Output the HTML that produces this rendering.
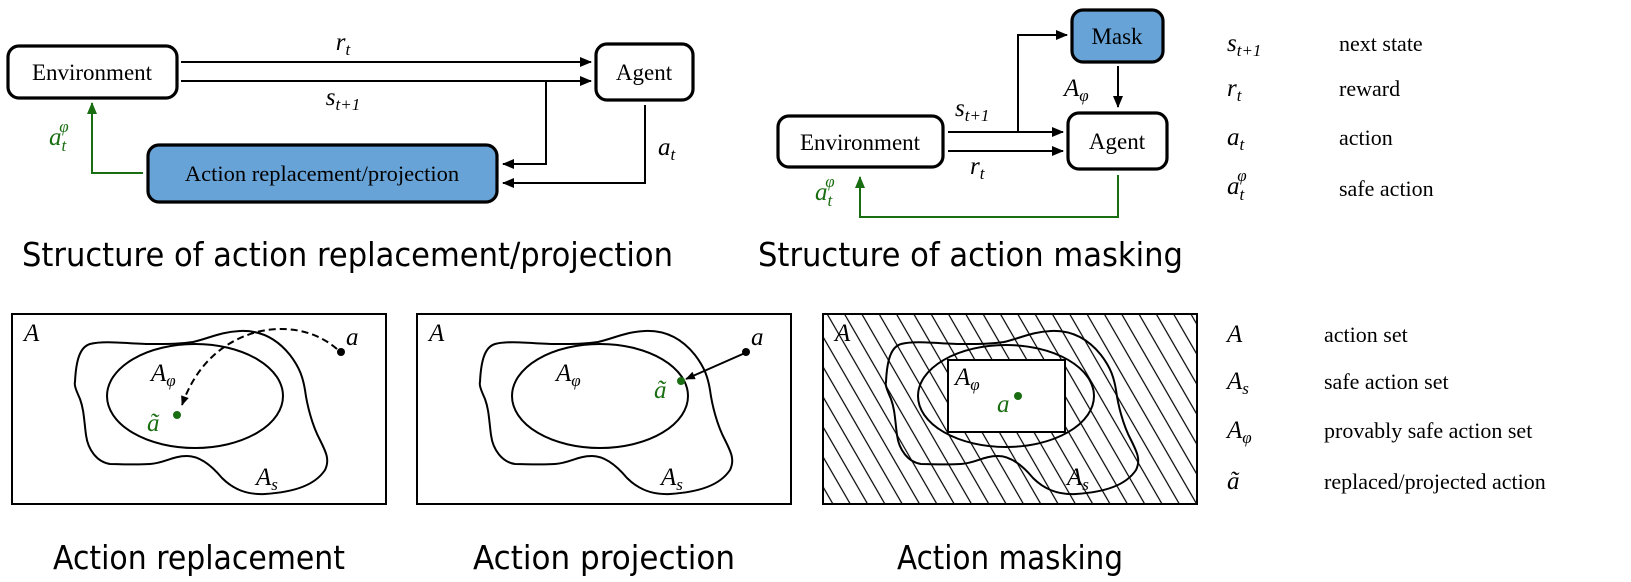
<!DOCTYPE html>
<html><head><meta charset="utf-8"><style>
html,body{margin:0;padding:0;background:#fff;}
svg{display:block;}
.serif{font-family:"Liberation Serif",serif;}
.it{font-family:"Liberation Serif",serif;font-style:italic;}
.sans{font-family:"DejaVu Sans","Liberation Sans",sans-serif;}
</style></head><body>
<svg width="1631" height="582" viewBox="0 0 1631 582" xmlns="http://www.w3.org/2000/svg">
<defs>
<marker id="ah" viewBox="0 0 12 10" refX="11" refY="5" markerWidth="12" markerHeight="10" markerUnits="userSpaceOnUse" orient="auto"><path d="M0,0 L12,5 L0,10 z" fill="#000"/></marker>
<marker id="ahs" viewBox="0 0 12 10" refX="11" refY="5" markerWidth="10" markerHeight="8" markerUnits="userSpaceOnUse" orient="auto"><path d="M0,0 L12,5 L0,10 z" fill="#000"/></marker>
<marker id="ag" viewBox="0 0 12 10" refX="11" refY="5" markerWidth="12" markerHeight="10" markerUnits="userSpaceOnUse" orient="auto"><path d="M0,0 L12,5 L0,10 z" fill="#1a6e12"/></marker>
<pattern id="hatch" patternUnits="userSpaceOnUse" width="15" height="15" patternTransform="rotate(-30)">
<line x1="7" y1="0" x2="7" y2="15" stroke="#000" stroke-width="1.2"/>
</pattern>
<path id="blob" d="M80,399 C76,390 74,385 75,382 C76,360 80,347 90,344 C105,340 130,344 150,344 C170,344 180,344 193,342 C210,338 220,332 240,331 C262,330 278,340 290,355 C300,368 303,378 305,390 C307,405 312,425 320,440 C326,452 330,460 325,470 C315,485 295,492 265,494 C245,495 232,488 222,478 C212,466 200,456 187,456 C172,456 165,463 150,464 C135,465 120,464 110,464 C97,462 88,450 86,435 C84,420 84,410 80,399 z" fill="none" stroke="#000" stroke-width="2"/>
</defs>

<!-- ===== Top-left diagram ===== -->
<rect x="8" y="46" width="169" height="52" rx="11" fill="#fff" stroke="#000" stroke-width="3.2"/>
<text x="92" y="80" class="serif" font-size="23" text-anchor="middle">Environment</text>
<rect x="596" y="44" width="97" height="56" rx="11" fill="#fff" stroke="#000" stroke-width="3.2"/>
<text x="644" y="80" class="serif" font-size="23" text-anchor="middle">Agent</text>
<rect x="148" y="145" width="349" height="57" rx="11" fill="#67a3d6" stroke="#000" stroke-width="3.2"/>
<text x="322" y="181" class="serif" font-size="22.5" text-anchor="middle">Action replacement/projection</text>

<line x1="181" y1="62" x2="591" y2="62" stroke="#000" stroke-width="2" marker-end="url(#ah)"/>
<line x1="181" y1="81" x2="591" y2="81" stroke="#000" stroke-width="2" marker-end="url(#ah)"/>
<text x="343" y="50" class="it" font-size="25" text-anchor="middle">r<tspan font-size="17" dy="5">t</tspan></text>
<text x="343" y="105" class="it" font-size="25" text-anchor="middle">s<tspan font-size="17" dy="5">t+1</tspan></text>
<polyline points="546,81 546,164 503,164" fill="none" stroke="#000" stroke-width="2" marker-end="url(#ah)"/>
<polyline points="645,105 645,183 503,183" fill="none" stroke="#000" stroke-width="2" marker-end="url(#ah)"/>
<text x="658" y="155" class="it" font-size="25">a<tspan font-size="17" dy="5">t</tspan></text>
<polyline points="143,173 92,173 92,103" fill="none" stroke="#1a6e12" stroke-width="2" marker-end="url(#ag)"/>
<text x="49" y="145" class="it" font-size="25" fill="#1a6e12">a<tspan font-size="17" dy="6">t</tspan><tspan font-size="17" dx="-7" dy="-19">φ</tspan></text>

<text x="22" y="266" class="sans" font-size="33" textLength="651" lengthAdjust="spacingAndGlyphs">Structure of action replacement/projection</text>

<!-- ===== Top-middle diagram ===== -->
<rect x="778" y="116" width="165" height="51" rx="11" fill="#fff" stroke="#000" stroke-width="3.2"/>
<text x="860" y="150" class="serif" font-size="23" text-anchor="middle">Environment</text>
<rect x="1068" y="113" width="99" height="56" rx="11" fill="#fff" stroke="#000" stroke-width="3.2"/>
<text x="1117" y="149" class="serif" font-size="23" text-anchor="middle">Agent</text>
<rect x="1072" y="10" width="91" height="52" rx="11" fill="#67a3d6" stroke="#000" stroke-width="3.2"/>
<text x="1117" y="44" class="serif" font-size="23" text-anchor="middle">Mask</text>

<line x1="948" y1="132" x2="1063" y2="132" stroke="#000" stroke-width="2" marker-end="url(#ah)"/>
<line x1="948" y1="151" x2="1063" y2="151" stroke="#000" stroke-width="2" marker-end="url(#ah)"/>
<polyline points="1018,132 1018,35 1067,35" fill="none" stroke="#000" stroke-width="2" marker-end="url(#ah)"/>
<line x1="1118" y1="66" x2="1118" y2="107" stroke="#000" stroke-width="2" marker-end="url(#ah)"/>
<text x="1064" y="96" class="it" font-size="25">A<tspan font-size="17" dy="5">φ</tspan></text>
<text x="955" y="116" class="it" font-size="25">s<tspan font-size="17" dy="5">t+1</tspan></text>
<text x="970" y="174" class="it" font-size="25">r<tspan font-size="17" dy="5">t</tspan></text>
<polyline points="1118,175 1118,217 860,217 860,177" fill="none" stroke="#1a6e12" stroke-width="2" marker-end="url(#ag)"/>
<text x="815" y="200" class="it" font-size="25" fill="#1a6e12">a<tspan font-size="17" dy="6">t</tspan><tspan font-size="17" dx="-7" dy="-19">φ</tspan></text>

<text x="758" y="266" class="sans" font-size="33" textLength="425" lengthAdjust="spacingAndGlyphs">Structure of action masking</text>

<!-- ===== Legend top ===== -->
<g font-size="22">
<text x="1227" y="51" class="it" font-size="25">s<tspan font-size="17" dy="5">t+1</tspan></text>
<text x="1339" y="51" class="serif">next state</text>
<text x="1227" y="96" class="it" font-size="25">r<tspan font-size="17" dy="5">t</tspan></text>
<text x="1339" y="96" class="serif">reward</text>
<text x="1227" y="145" class="it" font-size="25">a<tspan font-size="17" dy="5">t</tspan></text>
<text x="1339" y="145" class="serif">action</text>
<text x="1227" y="194" class="it" font-size="25">a<tspan font-size="17" dy="6">t</tspan><tspan font-size="17" dx="-7" dy="-19">φ</tspan></text>
<text x="1339" y="196" class="serif">safe action</text>
</g>

<!-- ===== Legend bottom ===== -->
<g font-size="22">
<text x="1227" y="342" class="it" font-size="25">A</text>
<text x="1324" y="342" class="serif">action set</text>
<text x="1227" y="389" class="it" font-size="25">A<tspan font-size="17" dy="5">s</tspan></text>
<text x="1324" y="389" class="serif">safe action set</text>
<text x="1227" y="438" class="it" font-size="25">A<tspan font-size="17" dy="5">φ</tspan></text>
<text x="1324" y="438" class="serif">provably safe action set</text>
<text x="1227" y="489" class="it" font-size="25">ã</text>
<text x="1324" y="489" class="serif">replaced/projected action</text>
</g>

<!-- ===== Panel 1 ===== -->
<rect x="12" y="314" width="374" height="190" fill="#fff" stroke="#000" stroke-width="2"/>
<use href="#blob"/>
<ellipse cx="195" cy="396" rx="88" ry="52" fill="none" stroke="#000" stroke-width="2"/>
<text x="24" y="341" class="it" font-size="25">A</text>
<text x="151" y="381" class="it" font-size="25">A<tspan font-size="17" dy="5">φ</tspan></text>
<text x="256" y="485" class="it" font-size="25">A<tspan font-size="17" dy="5">s</tspan></text>
<circle cx="341" cy="352" r="4" fill="#000"/>
<text x="346" y="345" class="it" font-size="25">a</text>
<path d="M337,349 C315,330 285,325 257,332 C220,342 195,368 182,405" fill="none" stroke="#000" stroke-width="2" stroke-dasharray="7,4" marker-end="url(#ahs)"/>
<circle cx="177" cy="415" r="4" fill="#1a6e12"/>
<text x="147" y="431" class="it" font-size="25" fill="#1a6e12">ã</text>
<text x="199" y="569" class="sans" font-size="33" text-anchor="middle" textLength="292" lengthAdjust="spacingAndGlyphs">Action replacement</text>

<!-- ===== Panel 2 ===== -->
<g transform="translate(405,0)">
<rect x="12" y="314" width="374" height="190" fill="#fff" stroke="#000" stroke-width="2"/>
<use href="#blob"/>
<ellipse cx="195" cy="396" rx="88" ry="52" fill="none" stroke="#000" stroke-width="2"/>
<text x="24" y="341" class="it" font-size="25">A</text>
<text x="151" y="381" class="it" font-size="25">A<tspan font-size="17" dy="5">φ</tspan></text>
<text x="256" y="485" class="it" font-size="25">A<tspan font-size="17" dy="5">s</tspan></text>
<circle cx="341" cy="352" r="4" fill="#000"/>
<text x="346" y="345" class="it" font-size="25">a</text>
<line x1="340" y1="353" x2="281" y2="379" stroke="#000" stroke-width="2" marker-end="url(#ahs)"/>
<circle cx="276" cy="381" r="4" fill="#1a6e12"/>
<text x="249" y="398" class="it" font-size="25" fill="#1a6e12">ã</text>
<text x="199" y="569" class="sans" font-size="33" text-anchor="middle" textLength="262" lengthAdjust="spacingAndGlyphs">Action projection</text>
</g>

<!-- ===== Panel 3 ===== -->
<g transform="translate(811,0)">
<rect x="12" y="314" width="374" height="190" fill="url(#hatch)" stroke="#000" stroke-width="2"/>
<use href="#blob"/>
<ellipse cx="195" cy="396" rx="88" ry="51" fill="none" stroke="#000" stroke-width="2"/>
<rect x="137" y="360" width="117" height="72" fill="#fff" stroke="#000" stroke-width="2"/>
<text x="24" y="341" class="it" font-size="25">A</text>
<text x="144" y="385" class="it" font-size="25">A<tspan font-size="17" dy="5">φ</tspan></text>
<text x="256" y="485" class="it" font-size="25">A<tspan font-size="17" dy="5">s</tspan></text>
<circle cx="207" cy="396" r="4" fill="#1a6e12"/>
<text x="186" y="412" class="it" font-size="25" fill="#1a6e12">a</text>
<text x="199" y="569" class="sans" font-size="33" text-anchor="middle" textLength="226" lengthAdjust="spacingAndGlyphs">Action masking</text>
</g>
</svg>
</body></html>
